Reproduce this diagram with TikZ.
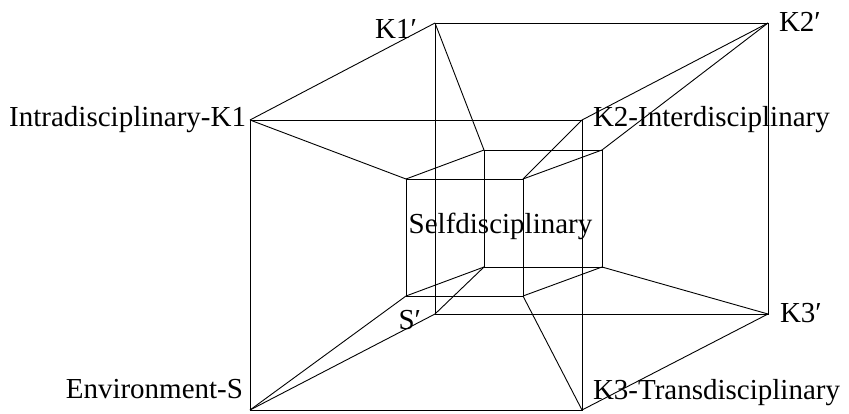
\documentclass[tikz,border=0pt]{standalone}
\usepackage{fontspec}
\setmainfont{Liberation Serif}
\begin{document}
\begin{tikzpicture}[x=1pt,y=-1pt,
  edge/.style={draw=black,line width=0.9pt,line join=miter},
  lbl/.style={inner sep=0pt,outer sep=0pt,font=\fontsize{29}{34}\selectfont}]
\useasboundingbox (0,0) rectangle (849,413);
% outer front square
\coordinate (K1) at (250,120);
\coordinate (K2) at (582,120);
\coordinate (S)  at (250,410);
\coordinate (K3) at (582,410);
% outer back square
\coordinate (K1p) at (435,23);
\coordinate (K2p) at (768,23);
\coordinate (Sp)  at (435,314);
\coordinate (K3p) at (768,314);
% inner front square
\coordinate (a1) at (406,179);
\coordinate (a2) at (523,179);
\coordinate (a3) at (406,296);
\coordinate (a4) at (523,296);
% inner back square
\coordinate (b1) at (484,150);
\coordinate (b2) at (602,150);
\coordinate (b3) at (484,267);
\coordinate (b4) at (602,267);
% squares
\draw[edge] (K1) -- (K2) -- (K3) -- (S) -- cycle;
\draw[edge] (K1p) -- (K2p) -- (K3p) -- (Sp) -- cycle;
\draw[edge] (a1) -- (a2) -- (a4) -- (a3) -- cycle;
\draw[edge] (b1) -- (b2) -- (b4) -- (b3) -- cycle;
% outer front-back
\draw[edge] (K1) -- (K1p);
\draw[edge] (K2) -- (K2p);
\draw[edge] (S) -- (Sp);
\draw[edge] (K3) -- (K3p);
% inner front-back
\draw[edge] (a1) -- (b1);
\draw[edge] (a2) -- (b2);
\draw[edge] (a3) -- (b3);
\draw[edge] (a4) -- (b4);
% outer front - inner front
\draw[edge] (K1) -- (a1);
\draw[edge] (K2) -- (a2);
\draw[edge] (S) -- (a3);
\draw[edge] (K3) -- (a4);
% outer back - inner back
\draw[edge] (K1p) -- (b1);
\draw[edge] (K2p) -- (b2);
\draw[edge] (Sp) -- (b3);
\draw[edge] (K3p) -- (b4);
% labels
\node[lbl,anchor=base east] (lK1) at (246,126.5) {Intradisciplinary-K1};
\node[lbl,anchor=base west] (lK2) at (593,126.5) {K2-Interdisciplinary};
\node[lbl,anchor=base east] (lS) at (243,398) {Environment-S};
\node[lbl,anchor=base west] (lK3) at (593,399) {K3-Transdisciplinary};
\node[lbl,anchor=base east] (lK1p) at (417,38) {K1′};
\node[lbl,anchor=base west] (lK2p) at (779,31) {K2′};
\node[lbl,anchor=base east] (lSp) at (421,329) {S′};
\node[lbl,anchor=base west] (lK3p) at (780,322) {K3′};
\node[lbl,anchor=base] (lself) at (500.5,233) {Selfdisciplinary};
\end{tikzpicture}
\end{document}
